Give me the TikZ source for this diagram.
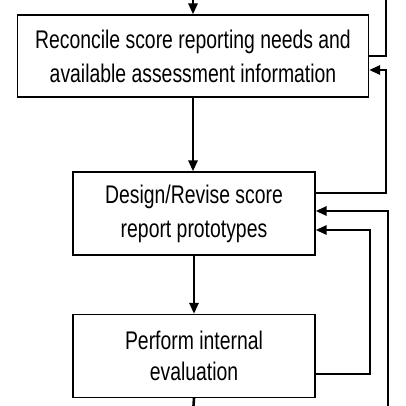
\documentclass[tikz,border=0pt]{standalone}
\usepackage{fontspec}
\newfontfamily\boxfont[FakeStretch=0.76]{Liberation Sans}
\usetikzlibrary{arrows.meta}
\tikzset{
	task/.style = {shape=rectangle, draw, line width=1.2pt, align=center, inner sep=0pt, minimum width=242pt, minimum height=83pt, font=\boxfont\fontsize{25.5}{34}\selectfont},
	link/.style = {line width=2.6pt, -{Triangle[length=11pt,width=9pt]}},
	wire/.style = {line width=2.6pt},
}
\begin{document}
\begin{tikzpicture}[x=1pt, y=1pt]
		\useasboundingbox (0,0) rectangle (406,406);

		\node[task, minimum width=351pt, minimum height=82pt] (reconcile) at (193, 350) {Reconcile score reporting needs and\\available assessment information};
		\node[task] (design) at (194, 192.5) {Design/Revise score\\report prototypes};
		\node[task, font=\boxfont\fontsize{25.5}{31}\selectfont] (evaluate) at (194, 50) {Perform internal\\evaluation};

		\coordinate (top-in) at (193, 406);
		\coordinate (top-out) at (386, 406);
		\coordinate (bottom-out) at (193.5, 0);
		\coordinate (bottom-in) at (388, 0);

		\draw[link] (top-in) -- (reconcile.north);
		\draw[link] (reconcile.south) -- (reconcile.south |- design.north);
		\draw[link] (design.south) -- (evaluate.north);
		\draw[wire] (evaluate.south) -- (bottom-out);

		% feedback paths on the right
		\draw[wire] (reconcile.east) -| (top-out);
		\draw[link] ([yshift=20.5pt]design.east) -| (386, 336) -- ([yshift=-14pt]reconcile.east);
		\draw[link] (bottom-in) |- ([yshift=2.5pt]design.east);
		\draw[link] ([yshift=-18pt]evaluate.east) -| (370, 176) -- ([yshift=-16.5pt]design.east);
	\end{tikzpicture}
\end{document}
